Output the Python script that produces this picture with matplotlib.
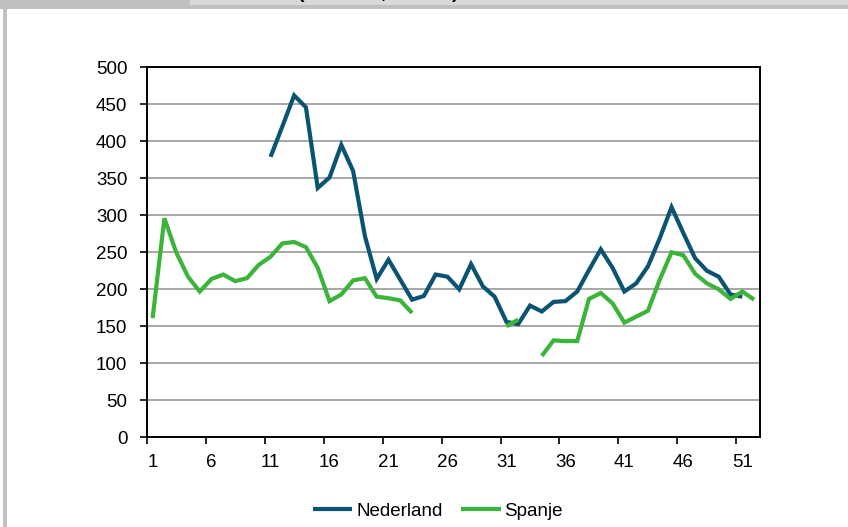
import numpy as np
import matplotlib
matplotlib.use("Agg")
import matplotlib.pyplot as plt
from matplotlib.patches import Rectangle
from matplotlib.ticker import FixedLocator, NullFormatter

nan = np.nan
weeks = list(range(1, 53))
nederland = [nan]*10 + [379, 420, 462, 446, 337, 351, 395, 360, 272, 214,
             240, 213, 186, 191, 220, 217, 200, 234, 204, 190,
             156, 153, 178, 170, 183, 184, 197, 226, 254, 229,
             197, 208, 231, 269, 311, 276, 242, 225, 217, 193,
             190, nan]
spanje = [161, 296, 250, 217, 197, 214, 220, 211, 215, 233,
          244, 262, 264, 257, 229, 184, 193, 212, 215, 190,
          188, 185, 168, nan, nan, nan, nan, nan, nan, nan,
          150, 159, nan, 110, 131, 130, 130, 187, 195, 181,
          155, 163, 171, 213, 250, 246, 221, 208, 200, 187,
          197, 186]
tick_labels = ["1", "6", "11", "16", "21", "26", "31", "36", "41", "46", "51"]
y_ticks = list(range(0, 501, 50))

plt.rcParams['font.family'] = ['Liberation Sans Narrow', 'Liberation Sans', 'DejaVu Sans']

W, H = 848, 527
FS = 13.5
fig = plt.figure(figsize=(W/100, H/100), dpi=100)

# frame decorations (top bars, left border)
fig.patches.append(Rectangle((0, 1 - 9/H), 1, 9/H, transform=fig.transFigure,
                             facecolor="#c0c0c0", edgecolor="none", zorder=0))
fig.patches.append(Rectangle((190/W, 1 - 5/H), 1 - 190/W, 5/H, transform=fig.transFigure,
                             facecolor="#d9d9d9", edgecolor="none", zorder=1))
fig.patches.append(Rectangle((3/W, 0), 4/W, 1, transform=fig.transFigure,
                             facecolor="#c0c0c0", edgecolor="none", zorder=0))
for xc, ch in [(301, "("), (383, ","), (455, ")")]:
    fig.text(xc/W, 1 + 2/H, ch, fontsize=14, fontweight="bold", ha="center",
             va="baseline", color="black", zorder=5)

ax = fig.add_axes([146.7/W, 1 - 437.3/H, (760 - 146.7)/W, (437.3 - 67.3)/H])
ax.plot(weeks, nederland, color="#0b5372", lw=3.0, label="Nederland",
        solid_joinstyle="miter", solid_capstyle="butt", zorder=3)
ax.plot(weeks, spanje, color="#3cb43a", lw=3.0, label="Spanje",
        solid_joinstyle="miter", solid_capstyle="butt", zorder=3)

ax.set_xlim(0.5, 52.5)
ax.set_ylim(0, 500)
ax.set_yticks(y_ticks)
ax.set_yticklabels([str(v) for v in y_ticks])
ax.yaxis.grid(True, color="#a0a0a0", lw=1.3)
ax.set_axisbelow(True)

major = [0.5 + 5*i for i in range(11)]
ax.xaxis.set_major_locator(FixedLocator(major))
ax.xaxis.set_major_formatter(NullFormatter())
ax.xaxis.set_minor_locator(FixedLocator([int(t) for t in tick_labels]))
ax.set_xticklabels(tick_labels, minor=True)
ax.tick_params(axis="x", which="major", direction="out", length=5, width=1.2, color="black")
ax.tick_params(axis="x", which="minor", length=0, pad=12, labelsize=FS)
ax.tick_params(axis="y", direction="out", length=5, width=1.2, pad=9, labelsize=FS)

for s in ax.spines.values():
    s.set_color("black")
    s.set_linewidth(1.4)

fig.legend(loc="center", bbox_to_anchor=(438/W, 1 - 511/H), ncol=2, frameon=False,
           fontsize=FS, handlelength=2.1, handletextpad=0.2, columnspacing=1.0)

fig.savefig("out.png", dpi=100)
